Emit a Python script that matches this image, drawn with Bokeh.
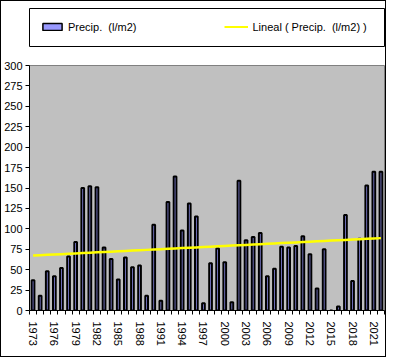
import numpy as np
from bokeh.plotting import figure
from bokeh.models import ColumnDataSource, FixedTicker, Legend, LegendItem, Range1d
from bokeh.layouts import column
from bokeh.embed import file_html
from bokeh.resources import INLINE

# ---- data ----
years = list(range(1973, 2023))
precip = [37, 18, 48, 42, 52, 66, 84, 150, 152, 151,
          77, 63, 38, 65, 53, 55, 18, 105, 12, 133,
          164, 98, 131, 115, 9, 58, 76, 59, 10, 159,
          86, 90, 95, 42, 51, 78, 77, 79, 91, 69,
          27, 75, 0, 5, 117, 36, 88, 153, 170, 170]
label_years = list(range(1973, 2022, 3))
y_ticks = list(range(0, 301, 25))
series_label = "Precip.  (l/m2)"
trend_label = "Lineal ( Precip.  (l/m2) )"

FONT = "Liberation Sans"
BAR_FILL = "#9999FF"
TREND_COLOR = "#FFFF00"

idx = list(range(len(years)))
src = ColumnDataSource(dict(x=idx, top=precip))

# linear trendline ("Lineal") derived from the series
slope, intercept = np.polyfit(idx, precip, 1)
trend = [slope * i + intercept for i in idx]

# ---- legend strip ----
leg = figure(width=384, height=46, output_backend="svg", toolbar_location=None,
             x_range=Range1d(0, 1), y_range=Range1d(0, 1),
             x_axis_location=None, y_axis_location=None,
             min_border_left=1, min_border_right=1, min_border_top=7, min_border_bottom=1)
leg.grid.visible = False
leg.outline_line_color = "black"
leg.outline_line_width = 1
leg.background_fill_color = "white"
leg.border_fill_color = "white"
# off-screen placeholder glyphs, used only for the legend swatches
r1 = leg.vbar(x=[5], top=[5], bottom=[4], width=0.6, fill_color=BAR_FILL, line_color="black", line_width=1.5)
r2 = leg.line(x=[5, 6], y=[5, 5], line_color=TREND_COLOR, line_width=2)
legend = Legend(items=[LegendItem(label=series_label, renderers=[r1]),
                       LegendItem(label=trend_label, renderers=[r2])],
                orientation="horizontal", location=(11, 13), padding=0, margin=0,
                spacing=88, glyph_width=24, glyph_height=9, label_height=13,
                label_standoff=4, label_text_font=FONT, label_text_font_size="11px",
                label_text_color="black", border_line_color=None, background_fill_alpha=0)
leg.add_layout(legend)

# ---- main chart ----
main = figure(width=384, height=309, output_backend="svg", toolbar_location=None,
              x_range=Range1d(-0.5, len(years) - 0.5), y_range=Range1d(0, 300),
              min_border_left=24, min_border_right=1, min_border_top=18, min_border_bottom=46)
main.background_fill_color = "#C0C0C0"
main.border_fill_color = "white"
main.outline_line_color = "#808080"
main.outline_line_width = 1
main.grid.visible = False

main.vbar(x="x", top="top", bottom=0, width=0.38, source=src,
          fill_color=BAR_FILL, line_color="black", line_width=2)
main.line(idx, trend, line_color=TREND_COLOR, line_width=2.5)

ya = main.yaxis[0]
ya.ticker = FixedTicker(ticks=y_ticks)
ya.minor_tick_line_color = None
ya.major_tick_in = 0
ya.major_tick_out = 4
ya.major_label_standoff = 3
ya.axis_line_color = "black"
ya.major_tick_line_color = "black"
ya.major_label_text_font = FONT
ya.major_label_text_font_size = "11px"
ya.major_label_text_color = "black"

xa = main.xaxis[0]
label_idx = [years.index(y) for y in label_years]
xa.ticker = FixedTicker(ticks=label_idx, minor_ticks=[i - 0.5 for i in range(len(years) + 1)])
xa.major_label_overrides = {i: str(years[i]) for i in label_idx}
xa.major_tick_line_color = None
xa.major_tick_in = 0
xa.major_tick_out = 4
xa.minor_tick_in = 0
xa.minor_tick_out = 4
xa.minor_tick_line_color = "black"
xa.axis_line_color = "black"
xa.major_label_orientation = "vertical"
xa.major_label_standoff = 7
xa.major_label_text_font = FONT
xa.major_label_text_font_size = "11px"
xa.major_label_text_color = "black"

layout = column(leg, main, spacing=0, styles={"border": "1px solid black"})

open("out.html", "w").write(file_html(layout, INLINE))
